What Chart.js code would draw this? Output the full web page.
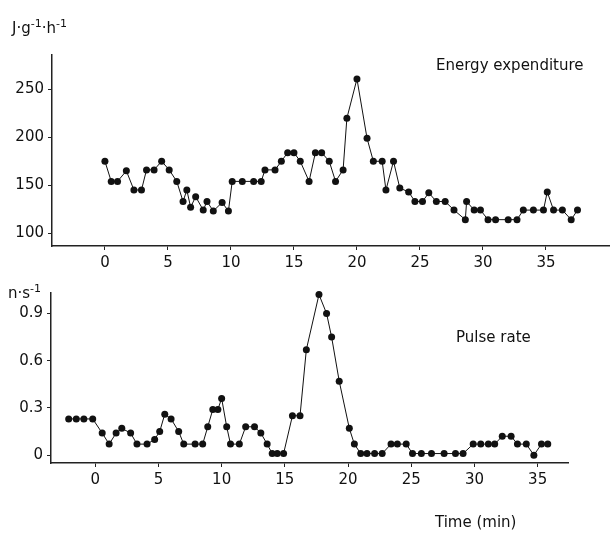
<!DOCTYPE html>
<html>
<head>
<meta charset="utf-8">
<script src="https://cdn.jsdelivr.net/npm/chart.js@4"></script>
<style>
  body { margin: 0; background: #fff; }
  #wrap { position: relative; width: 613px; height: 534px; font-family: "DejaVu Sans", sans-serif; color: #111; }
  .lbl { position: absolute; font-size: 15px; line-height: 18px; white-space: nowrap; }
  canvas { position: absolute; left: 0; }
</style>
</head>
<body>
<div id="wrap">
  <canvas id="energyChart" width="613" height="290" style="top:0"></canvas>
  <canvas id="pulseChart" width="613" height="254" style="top:280px"></canvas>
  <div class="lbl" style="left:12px;top:15px">J·g<sup style="font-size:11px">-1</sup>·h<sup style="font-size:11px">-1</sup></div>
  <div class="lbl" style="left:8px;top:280px">n·s<sup style="font-size:11px">-1</sup></div>
  <div class="lbl" style="left:436px;top:56px">Energy expenditure</div>
  <div class="lbl" style="left:456px;top:328px">Pulse rate</div>
  <div class="lbl" style="left:435px;top:513px">Time (min)</div>
</div>
<script>
// energy expenditure (J g-1 h-1) vs time (min)
const energyTime = [0,0.5,1.0,1.7,2.3,2.9,3.3,3.9,4.5,5.1, 5.7,6.2,6.5,6.8,7.2,7.8,8.1,8.6,9.3,9.8,
  10.1,10.9,11.8,12.4,12.7,13.5,14.0,14.5,15.0,15.5, 16.2,16.7,17.2,17.8,18.3,18.9,19.2,20.0,20.8,21.3,
  22.0,22.3,22.9,23.4,24.1,24.6,25.2,25.7,26.3,27.0, 27.7,28.6,28.7,29.3,29.8,30.4,31.0,32.0,32.7,33.2,
  34.0,34.8,35.1,35.6,36.3,37.0,37.5];
const energyValues = [175,154,154,165,145,145,166,166,175,166, 154,133,145,127,138,124,133,123,132,123,
  154,154,154,154,166,166,175,184,184,175, 154,184,184,175,154,166,220,261,199,175,
  175,145,175,147,143,133,133,142,133,133, 124,114,133,124,124,114,114,114,114,124,
  124,124,143,124,124,114,124];

// pulse rate (n s-1) vs time (min)
const pulseTime = [-2.1,-1.5,-0.9,-0.2,0.55,1.1,1.65,2.1,2.8,3.3, 4.1,4.7,5.1,5.5,6.0,6.6,7.0,7.9,8.5,8.9,
  9.3,9.7,10.0,10.4,10.7,11.4,11.9,12.6,13.1,13.6, 14.0,14.4,14.9,15.6,16.2,16.7,17.7,18.3,18.7,19.3,
  20.1,20.5,21.0,21.5,22.1,22.7,23.4,23.9,24.6,25.1, 25.8,26.6,27.6,28.5,29.1,29.9,30.5,31.1,31.6,32.2,
  32.9,33.4,34.1,34.7,35.3,35.8];
const pulseValues = [0.23,0.23,0.23,0.23,0.14,0.07,0.14,0.17,0.14,0.07, 0.07,0.10,0.15,0.26,0.23,0.15,0.07,0.07,0.07,0.18,
  0.29,0.29,0.36,0.18,0.07,0.07,0.18,0.18,0.14,0.07, 0.01,0.01,0.01,0.25,0.25,0.67,1.02,0.90,0.75,0.47,
  0.17,0.07,0.01,0.01,0.01,0.01,0.07,0.07,0.07,0.01, 0.01,0.01,0.01,0.01,0.01,0.07,0.07,0.07,0.07,0.12,
  0.12,0.07,0.07,0.0,0.07,0.07];

const timeTicks = [0, 5, 10, 15, 20, 25, 30, 35];
const energyTicks = [100, 150, 200, 250];
const pulseTicks = [0, 0.3, 0.6, 0.9];

const tickFont = { family: 'DejaVu Sans', size: 15 };

function makeChart(id, xs, ys, opts) {
    const data = xs.map((x, i) => ({ x: x, y: ys[i] }));
    return new Chart(document.getElementById(id), {
        type: 'scatter',
        data: {
            datasets: [{
                data: data,
                showLine: true,
                borderColor: '#111',
                borderWidth: 1,
                backgroundColor: '#111',
                pointRadius: 3.5,
                pointBorderWidth: 0,
                clip: false
            }]
        },
        options: {
            responsive: false,
            animation: false,
            layout: { padding: opts.padding },
            plugins: { legend: { display: false }, tooltip: { enabled: false } },
            scales: {
                x: {
                    type: 'linear',
                    min: opts.xMin, max: opts.xMax,
                    afterBuildTicks: s => { s.ticks = timeTicks.map(v => ({ value: v })); },
                    afterFit: s => { s.height = opts.xHeight; },
                    grid: { drawOnChartArea: false, drawTicks: true, tickLength: 4, color: '#222' },
                    border: { display: true, color: '#222', width: 1.5 },
                    ticks: { color: '#111', font: tickFont, padding: 4, maxRotation: 0 }
                },
                y: {
                    min: opts.yMin, max: opts.yMax,
                    afterBuildTicks: s => { s.ticks = opts.yTicks.map(v => ({ value: v })); },
                    afterFit: s => { s.width = opts.yWidth; },
                    grid: { drawOnChartArea: false, drawTicks: true, tickLength: 4, color: '#222' },
                    border: { display: true, color: '#222', width: 1.5 },
                    ticks: { color: '#111', font: tickFont, padding: 4, callback: opts.yFormat }
                }
            }
        }
    });
}

makeChart('energyChart', energyTime, energyValues, {
    padding: { top: 55, right: 3, left: 0, bottom: 0 },
    xMin: -4.2, xMax: 40, yMin: 86.5, yMax: 286,
    xHeight: 44, yWidth: 52,
    yTicks: energyTicks,
    yFormat: v => String(v)
});

makeChart('pulseChart', pulseTime, pulseValues, {
    padding: { top: 7, right: 45, left: 0, bottom: 0 },
    xMin: -3.5, xMax: 37.4, yMin: -0.05, yMax: 1.03,
    xHeight: 71, yWidth: 51,
    yTicks: pulseTicks,
    yFormat: v => v === 0 ? '0' : v.toFixed(1)
});
</script>
</body>
</html>
